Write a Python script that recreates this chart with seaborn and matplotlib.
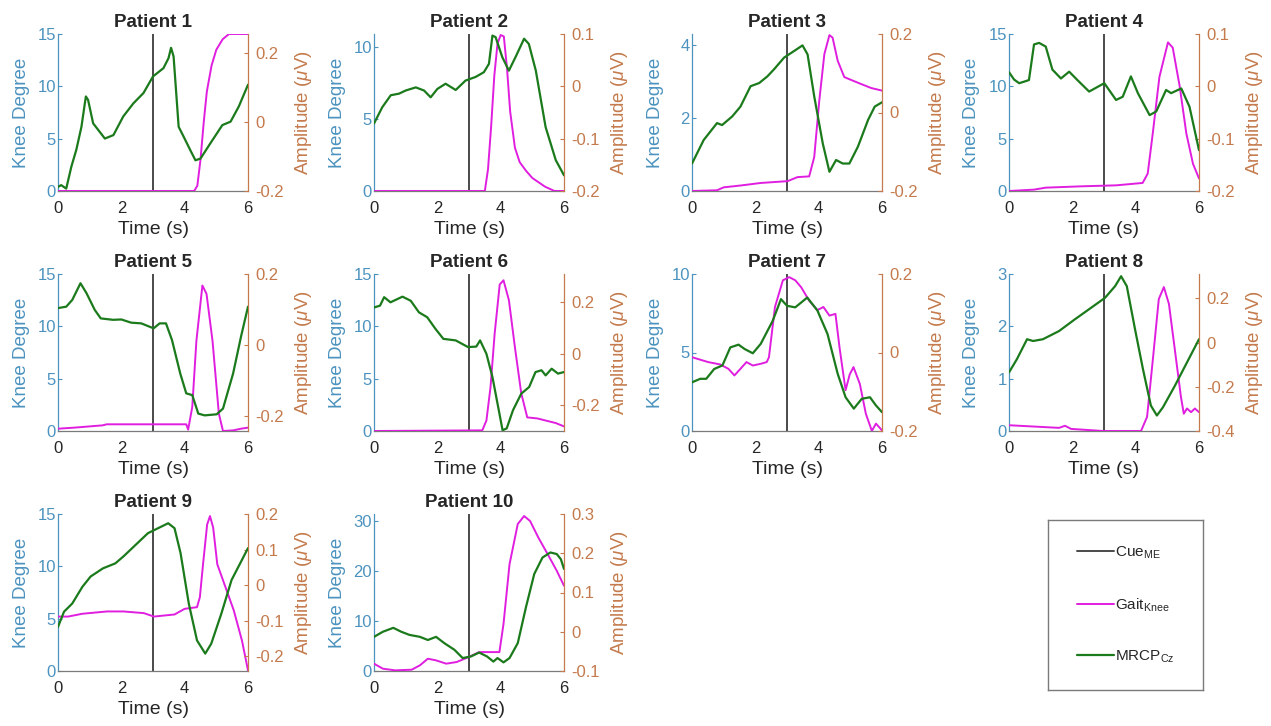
import matplotlib
matplotlib.use('Agg')
import matplotlib.pyplot as plt
import seaborn as sns
from matplotlib.lines import Line2D
from matplotlib.ticker import FormatStrFormatter

sns.set_style('white')
plt.rcParams['font.family'] = ['Liberation Sans', 'DejaVu Sans']
plt.rcParams['mathtext.fontset'] = 'custom'
plt.rcParams['mathtext.rm'] = 'Liberation Sans'
plt.rcParams['mathtext.it'] = 'Liberation Sans:italic'

knee_1 = [(0, 0), (4.3, 0), (4.4, 0.5), (4.5, 3), (4.6, 6.5), (4.7, 9.5), (4.85, 12), (5.0, 13.5),
          (5.2, 14.5), (5.4, 15), (6, 15)]
mrcp_1 = [(0, -0.188), (0.1, -0.183), (0.26, -0.193), (0.42, -0.13), (0.58, -0.08), (0.74, -0.014),
          (0.88, 0.074), (0.95, 0.064), (1.11, -0.004), (1.27, -0.023), (1.48, -0.048), (1.75, -0.038),
          (2.06, 0.016), (2.38, 0.054), (2.7, 0.084), (3.0, 0.132), (3.33, 0.156), (3.49, 0.185),
          (3.57, 0.215), (3.65, 0.19), (3.81, -0.014), (3.97, -0.043), (4.18, -0.082), (4.34, -0.111),
          (4.5, -0.106), (4.81, -0.062), (5.19, -0.009), (5.45, 0.001), (5.71, 0.045), (6.0, 0.108)]

knee_2 = [(0, 0), (3.5, 0), (3.6, 1.5), (3.7, 4.5), (3.8, 8), (3.9, 10.2), (4.0, 10.8), (4.1, 10.7),
          (4.2, 8.5), (4.3, 5.5), (4.45, 3), (4.6, 2), (4.8, 1.4), (5.0, 0.9), (5.4, 0.3), (5.7, 0), (6, 0)]
mrcp_2 = [(0, -0.071), (0.26, -0.04), (0.53, -0.017), (0.79, -0.014), (1.0, -0.008), (1.32, -0.002),
          (1.58, -0.008), (1.79, -0.021), (2.0, -0.005), (2.26, 0.005), (2.58, -0.007), (2.89, 0.011),
          (3.21, 0.018), (3.47, 0.027), (3.63, 0.043), (3.74, 0.097), (3.84, 0.094), (4.05, 0.056),
          (4.26, 0.03), (4.47, 0.056), (4.74, 0.091), (4.89, 0.081), (5.11, 0.03), (5.42, -0.078),
          (5.74, -0.141), (6.0, -0.17)]

knee_3 = [(0, 0), (0.79, 0.02), (1.0, 0.1), (1.53, 0.15), (2.17, 0.22), (3.02, 0.27), (3.33, 0.38),
          (3.7, 0.4), (3.86, 0.93), (4.02, 2.48), (4.18, 3.75), (4.34, 4.27), (4.44, 4.2), (4.6, 3.57),
          (4.81, 3.12), (5.03, 3.04), (5.34, 2.93), (5.66, 2.82), (6, 2.75)]
mrcp_3 = [(0, -0.13), (0.37, -0.07), (0.79, -0.027), (0.95, -0.032), (1.27, -0.01), (1.53, 0.015),
          (1.85, 0.067), (2.12, 0.075), (2.38, 0.092), (2.59, 0.11), (2.91, 0.14), (3.23, 0.157),
          (3.49, 0.171), (3.65, 0.148), (3.86, 0.041), (4.13, -0.079), (4.34, -0.151), (4.55, -0.121),
          (4.76, -0.13), (4.97, -0.13), (5.24, -0.087), (5.56, -0.019), (5.77, 0.015), (6, 0.026)]

knee_4 = [(0, 0), (0.79, 0.13), (1.16, 0.32), (2.32, 0.45), (3.38, 0.54), (4.22, 0.77), (4.38, 1.66),
          (4.54, 5.5), (4.75, 10.9), (5.02, 14.2), (5.17, 13.7), (5.39, 10), (5.6, 5.5), (5.81, 2.6),
          (6, 1.2)]
mrcp_4 = [(0, 0.027), (0.16, 0.013), (0.32, 0.006), (0.48, 0.009), (0.63, 0.012), (0.79, 0.08),
          (0.95, 0.083), (1.16, 0.076), (1.37, 0.032), (1.64, 0.015), (1.9, 0.028), (2.16, 0.012),
          (2.53, -0.01), (3.01, 0.006), (3.38, -0.026), (3.59, -0.02), (3.85, 0.019), (4.07, -0.013),
          (4.44, -0.055), (4.65, -0.048), (4.96, -0.007), (5.12, -0.013), (5.44, -0.004), (5.7, -0.039),
          (6, -0.122)]

knee_5 = [(0, 0.22), (0.51, 0.32), (1.41, 0.54), (1.54, 0.64), (2.06, 0.64), (4.05, 0.64), (4.11, 0.13),
          (4.24, 2.3), (4.37, 8.6), (4.56, 13.9), (4.69, 13.1), (4.88, 8.6), (5.08, 1.65), (5.21, 0),
          (5.53, 0.06), (5.78, 0.22), (6, 0.32)]
mrcp_5 = [(0, 0.104), (0.26, 0.108), (0.45, 0.127), (0.71, 0.174), (0.9, 0.146), (1.16, 0.099),
          (1.35, 0.075), (1.74, 0.071), (2.0, 0.072), (2.31, 0.063), (2.63, 0.061), (3.02, 0.047),
          (3.21, 0.061), (3.41, 0.061), (3.6, 0.014), (3.86, -0.08), (4.05, -0.136), (4.24, -0.141),
          (4.43, -0.193), (4.63, -0.198), (5.01, -0.195), (5.21, -0.179), (5.53, -0.08), (5.78, 0.024),
          (6, 0.108)]

knee_6 = [(0, 0), (3.42, 0.06), (3.55, 1), (3.68, 4.2), (3.81, 9.3), (3.97, 14), (4.09, 14.4),
          (4.26, 12.5), (4.45, 8), (4.65, 3.6), (4.84, 1.3), (5.16, 1.2), (5.42, 1.0), (5.74, 0.76),
          (6, 0.44)]
mrcp_6 = [(0, 0.18), (0.19, 0.187), (0.32, 0.22), (0.52, 0.2), (0.9, 0.222), (1.16, 0.206),
          (1.42, 0.161), (1.68, 0.142), (1.94, 0.097), (2.19, 0.058), (2.58, 0.052), (2.97, 0.026),
          (3.23, 0.028), (3.35, 0.052), (3.55, 0), (3.74, -0.09), (3.94, -0.219), (4.06, -0.297),
          (4.19, -0.29), (4.39, -0.219), (4.65, -0.155), (4.9, -0.129), (5.1, -0.071), (5.29, -0.064),
          (5.42, -0.084), (5.61, -0.058), (5.81, -0.077), (6, -0.071)]

knee_7 = [(0, 4.7), (0.51, 4.39), (0.89, 4.24), (1.15, 3.96), (1.34, 3.54), (1.53, 3.96), (1.72, 4.39),
          (1.92, 4.17), (2.17, 4.28), (2.36, 4.39), (2.43, 4.7), (2.62, 7.9), (2.87, 9.6), (3.07, 9.8),
          (3.26, 9.6), (3.45, 9.15), (3.7, 8.3), (3.96, 7.7), (4.15, 7.9), (4.34, 7.35), (4.53, 7.46),
          (4.66, 5.3), (4.85, 2.6), (4.98, 3.6), (5.1, 4.07), (5.3, 3.0), (5.49, 1.1), (5.68, 0),
          (5.81, 0.47), (6, 0.04)]
mrcp_7 = [(0, -0.076), (0.26, -0.067), (0.45, -0.067), (0.7, -0.042), (0.96, -0.033), (1.21, 0.013),
          (1.47, 0.02), (1.66, 0.009), (1.92, -0.002), (2.17, 0.022), (2.55, 0.081), (2.81, 0.136),
          (3.0, 0.119), (3.26, 0.115), (3.64, 0.14), (3.96, 0.107), (4.28, 0.047), (4.6, -0.054),
          (4.85, -0.114), (5.11, -0.143), (5.36, -0.118), (5.62, -0.114), (5.81, -0.135), (6, -0.152)]

knee_8 = [(0, 0.11), (0.95, 0.08), (1.58, 0.06), (1.77, 0.1), (1.96, 0.04), (2.97, 0), (4.17, 0),
          (4.36, 0.27), (4.55, 1.41), (4.73, 2.52), (4.89, 2.75), (5.05, 2.43), (5.24, 1.54), (5.43, 0.65),
          (5.52, 0.33), (5.62, 0.43), (5.75, 0.36), (5.87, 0.43), (6, 0.36)]
mrcp_8 = [(0, -0.135), (0.25, -0.075), (0.57, 0.015), (0.76, 0.007), (1.07, 0.015), (1.58, 0.052),
          (2.08, 0.105), (2.59, 0.157), (3.03, 0.202), (3.35, 0.255), (3.54, 0.3), (3.72, 0.255),
          (3.98, 0.06), (4.23, -0.12), (4.48, -0.285), (4.67, -0.33), (4.86, -0.293), (5.24, -0.195),
          (5.62, -0.09), (6, 0.015)]

knee_9 = [(0, 5.2), (0.32, 5.2), (0.77, 5.47), (1.55, 5.69), (2.06, 5.69), (2.71, 5.53), (3.03, 5.2),
          (3.35, 5.3), (3.68, 5.4), (4.0, 5.94), (4.39, 6.1), (4.48, 7.05), (4.58, 10.2), (4.71, 14.0),
          (4.8, 14.8), (4.9, 13.7), (5.03, 10.2), (5.29, 8.0), (5.55, 5.8), (5.81, 2.9), (6, 0.06)]
mrcp_9 = [(0, -0.118), (0.19, -0.075), (0.45, -0.052), (0.77, -0.005), (1.03, 0.024), (1.42, 0.047),
          (1.81, 0.061), (2.06, 0.08), (2.45, 0.113), (2.84, 0.146), (3.16, 0.16), (3.48, 0.174),
          (3.68, 0.16), (3.87, 0.09), (4.13, -0.052), (4.39, -0.156), (4.65, -0.193), (4.84, -0.165),
          (5.16, -0.08), (5.48, 0.014), (5.81, 0.071), (6, 0.104)]

knee_10 = [(0, 1.46), (0.28, 0.46), (0.67, 0.13), (1.19, 0.26), (1.45, 1.13), (1.7, 2.45), (1.96, 2.12),
           (2.28, 1.46), (2.61, 1.79), (2.99, 2.78), (3.32, 3.77), (3.64, 3.77), (3.96, 3.77), (4.09, 9.4),
           (4.28, 21.3), (4.54, 29.3), (4.74, 30.9), (4.93, 29.9), (5.19, 26.6), (5.51, 23), (5.77, 20),
           (6, 17)]
mrcp_10 = [(0, -0.013), (0.28, 0), (0.61, 0.01), (0.86, 0), (1.12, -0.008), (1.45, -0.013), (1.7, -0.021),
           (1.96, -0.013), (2.22, -0.029), (2.54, -0.046), (2.8, -0.067), (3.06, -0.063), (3.32, -0.053),
           (3.57, -0.063), (3.77, -0.076), (3.9, -0.067), (4.09, -0.078), (4.28, -0.067), (4.54, -0.029),
           (4.8, 0.063), (5.06, 0.147), (5.32, 0.189), (5.57, 0.202), (5.77, 0.198), (5.9, 0.185),
           (6, 0.16)]

knee_all = [knee_1, knee_2, knee_3, knee_4, knee_5, knee_6, knee_7, knee_8, knee_9, knee_10]
mrcp_all = [mrcp_1, mrcp_2, mrcp_3, mrcp_4, mrcp_5, mrcp_6, mrcp_7, mrcp_8, mrcp_9, mrcp_10]

knee_top = [15, 10.87, 4.3, 15, 15, 15, 10, 3, 15, 31.3]
knee_ticks = [[0, 5, 10, 15], [0, 5, 10], [0, 2, 4], [0, 5, 10, 15], [0, 5, 10, 15], [0, 5, 10, 15],
              [0, 5, 10], [0, 1, 2, 3], [0, 5, 10, 15], [0, 10, 20, 30]]
amp_lim = [(-0.2, 0.255), (-0.2, 0.1), (-0.2, 0.2), (-0.2, 0.1), (-0.242, 0.2), (-0.3, 0.31),
           (-0.2, 0.2), (-0.4, 0.31), (-0.242, 0.2), (-0.1, 0.3)]
amp_ticks = [[-0.2, 0, 0.2], [-0.2, -0.1, 0, 0.1], [-0.2, 0, 0.2], [-0.2, -0.1, 0, 0.1], [-0.2, 0, 0.2],
             [-0.2, 0, 0.2], [-0.2, 0, 0.2], [-0.4, -0.2, 0, 0.2], [-0.2, -0.1, 0, 0.1, 0.2],
             [-0.1, 0, 0.1, 0.2, 0.3]]
cue_time = 3

c_knee = '#e01ee0'
c_mrcp = '#1b7a1b'
c_cue = '#4a4a4a'
c_left = '#4c93bf'
c_right = '#c47a4c'

W, H = 1271, 726
fig = plt.figure(figsize=(W / 100, H / 100), dpi=100)

col_x = [58, 374, 692, 1009]
row_top = [34, 274, 514]
aw, ah = 190, 157

for i in range(10):
    r, c = divmod(i, 4)
    ax = fig.add_axes([col_x[c] / W, (H - row_top[r] - ah) / H, aw / W, ah / H])
    ax.set_facecolor('none')
    kt = [p[0] for p in knee_all[i]]
    kv = [p[1] for p in knee_all[i]]
    mt = [p[0] for p in mrcp_all[i]]
    mv = [p[1] for p in mrcp_all[i]]

    ax.axvline(cue_time, color=c_cue, lw=1.4, zorder=1)
    sns.lineplot(x=kt, y=kv, ax=ax, color=c_knee, lw=1.4, sort=False, zorder=3)
    ax.set_xlim(0, 6)
    ax.set_ylim(0, knee_top[i])
    ax.set_yticks(knee_ticks[i])
    ax.set_xticks([0, 2, 4, 6])

    ax2 = ax.twinx()
    sns.lineplot(x=mt, y=mv, ax=ax2, color=c_mrcp, lw=1.6, sort=False, zorder=3)
    ax2.set_ylim(*amp_lim[i])
    ax2.set_yticks(amp_ticks[i])
    ax2.yaxis.set_major_formatter(FormatStrFormatter('%g'))
    ax2.set_xlim(0, 6)

    ax.set_title(f'Patient {i + 1}', fontsize=13.5, fontweight='bold', pad=5)
    ax.set_xlabel('Time (s)', fontsize=14, color='#262626')
    ax.xaxis.set_label_coords(0.5, -0.19)
    ax.set_ylabel('Knee Degree', fontsize=13.5, color=c_left)
    ax.yaxis.set_label_coords(-0.15, 0.5)
    ax2.set_ylabel(r'Amplitude ($\mu$V)', fontsize=13.5, color=c_right)
    ax2.yaxis.set_label_coords(1.235, 0.5)

    for a in (ax, ax2):
        a.spines['top'].set_visible(False)
        a.spines['bottom'].set_color('#7a7a7a')
        a.spines['left'].set_color(c_left)
        a.spines['right'].set_color(c_right)
        a.spines['left'].set_visible(a is ax)
        a.spines['right'].set_visible(a is ax2)
        a.spines['bottom'].set_visible(a is ax)
        for s in a.spines.values():
            s.set_linewidth(0.9)
    ax.tick_params(axis='x', colors='#262626', labelsize=12, direction='in', length=3, pad=7)
    ax.tick_params(axis='y', colors=c_left, labelsize=12, direction='in', length=3, pad=1.5)
    ax2.tick_params(axis='y', colors=c_right, labelsize=12, direction='in', length=3, pad=5)
    ax2.tick_params(axis='x', bottom=False, labelbottom=False)

# legend box
lax = fig.add_axes([1048 / W, (H - 690) / H, 155 / W, 170 / H])
lax.set_xticks([])
lax.set_yticks([])
lax.set_facecolor('white')
for s in lax.spines.values():
    s.set_color('#7a7a7a')
    s.set_linewidth(1)
handles = [Line2D([], [], color=c_cue, lw=1.4),
           Line2D([], [], color=c_knee, lw=1.4),
           Line2D([], [], color=c_mrcp, lw=1.6)]
labels = [r'Cue$_{\mathrm{ME}}$', r'Gait$_{\mathrm{Knee}}$', r'MRCP$_{\mathrm{Cz}}$']
lax.legend(handles, labels, loc='center left', bbox_to_anchor=(0.1, 0.5), frameon=False,
           fontsize=11, handlelength=2.4, handletextpad=0.1, labelspacing=2.3)

fig.savefig('out.png', dpi=100)
